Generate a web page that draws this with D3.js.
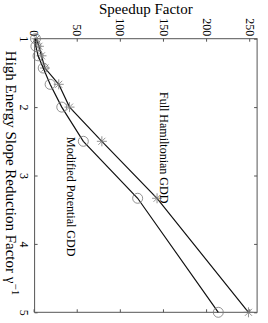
<!DOCTYPE html>
<html>
<head>
  <meta charset="utf-8">
  <title>Speedup Factor</title>
  <style>
    body { margin: 0; background: #fff; }
    text { font-family: "Liberation Serif", "DejaVu Serif", serif; fill: #000; }
  </style>
</head>
<body>
  <script src="https://d3js.org/d3.v7.min.js"></script>
  <script>
    // data
    var gammaInv = [1, 1.111, 1.25, 1.429, 1.667, 2, 2.5, 3.333, 5];
    var fullHam  = [2, 5, 8, 12, 28, 40.5, 78, 142, 248];
    var modPot   = [1, 1.5, 4, 10, 18, 31.5, 56.5, 119.5, 213];
    var xTicks = [1, 2, 3, 4, 5];
    var yTicks = [0, 50, 100, 150, 200, 250];

    var width = 268, height = 323;
    var serif = "'Liberation Serif', 'DejaVu Serif', serif";

    var svg = d3.select("body").append("svg")
      .attr("width", width)
      .attr("height", height);

    svg.append("rect").attr("width", width).attr("height", height).attr("fill", "#fff");

    // the figure is drawn upright and then turned a quarter turn clockwise
    var g = svg.append("g").attr("transform", "translate(" + width + ",0) rotate(90)");

    var x = d3.scaleLinear().domain([1, 5]).range([38.7, 312.3]);
    var y = d3.scaleLinear().domain([0, 258]).range([233.4, 10.9]);

    // box
    g.append("rect")
      .attr("x", x.range()[0]).attr("y", y.range()[1])
      .attr("width", x.range()[1] - x.range()[0])
      .attr("height", y.range()[0] - y.range()[1])
      .attr("fill", "none").attr("stroke", "#555").attr("stroke-width", 1);

    function styleAxis(sel) {
      sel.select(".domain").remove();
      sel.selectAll(".tick line").attr("stroke", "#555");
      sel.selectAll(".tick text")
        .style("font-family", serif)
        .style("font-size", "12px");
    }

    g.append("g")
      .attr("transform", "translate(0," + y.range()[0] + ")")
      .call(d3.axisBottom(x).tickValues(xTicks).tickFormat(d3.format("d")).tickSizeInner(-3).tickSizeOuter(0).tickPadding(6.5))
      .call(styleAxis);

    g.append("g")
      .attr("transform", "translate(0," + y.range()[1] + ")")
      .call(d3.axisTop(x).tickValues(xTicks).tickFormat("").tickSizeInner(-3).tickSizeOuter(0))
      .call(styleAxis);

    g.append("g")
      .attr("transform", "translate(" + x.range()[0] + ",0)")
      .call(d3.axisLeft(y).tickValues(yTicks).tickFormat(d3.format("d")).tickSizeInner(-3).tickSizeOuter(0).tickPadding(2.5))
      .call(styleAxis);

    g.append("g")
      .attr("transform", "translate(" + x.range()[1] + ",0)")
      .call(d3.axisRight(y).tickValues(yTicks).tickFormat("").tickSizeInner(-3).tickSizeOuter(0))
      .call(styleAxis);

    // axis labels
    g.append("text")
      .attr("transform", "translate(14," + (y.range()[0] + y.range()[1]) / 2 + ") rotate(-90)")
      .attr("text-anchor", "middle")
      .style("font-family", serif)
      .style("font-size", "15px")
      .text("Speedup Factor");

    var xl = g.append("text")
      .attr("x", 173).attr("y", 262)
      .attr("text-anchor", "middle")
      .style("font-family", serif)
      .style("font-size", "15px")
      .text("High Energy Slope Reduction Factor \u03b3");
    xl.append("tspan").attr("dy", -6).style("font-size", "11px").text("\u22121");

    // lines
    var series = [
      { name: "Full Hamiltonian GDD", values: fullHam, marker: "star" },
      { name: "Modified Potential GDD", values: modPot, marker: "circle" }
    ];

    var line = d3.line()
      .x(function (d) { return x(d[0]); })
      .y(function (d) { return y(d[1]); });

    series.forEach(function (s) {
      var pts = gammaInv.map(function (v, i) { return [v, s.values[i]]; });

      g.append("path")
        .datum(pts)
        .attr("d", line)
        .attr("fill", "none")
        .attr("stroke", "#111")
        .attr("stroke-width", 1.2);

      if (s.marker == "circle") {
        g.selectAll(null).data(pts).enter().append("circle")
          .attr("cx", function (d) { return x(d[0]); })
          .attr("cy", function (d) { return y(d[1]); })
          .attr("r", 5)
          .attr("fill", "none")
          .attr("stroke", "#777")
          .attr("stroke-width", 0.8);
      } else {
        g.selectAll(null).data(pts).enter().append("path")
          .attr("transform", function (d) { return "translate(" + x(d[0]) + "," + y(d[1]) + ")"; })
          .attr("d", "M-5,0H5M0,-5V5M-3.5,-3.5L3.5,3.5M-3.5,3.5L3.5,-3.5")
          .attr("fill", "none")
          .attr("stroke", "#777")
          .attr("stroke-width", 0.8);
      }
    });

    // line labels
    g.append("text")
      .attr("x", 92).attr("y", 108)
      .style("font-family", serif)
      .style("font-size", "12px")
      .text("Full Hamiltonian GDD");

    g.append("text")
      .attr("x", 137).attr("y", 201)
      .style("font-family", serif)
      .style("font-size", "12px")
      .text("Modified Potential GDD");
  </script>
</body>
</html>
